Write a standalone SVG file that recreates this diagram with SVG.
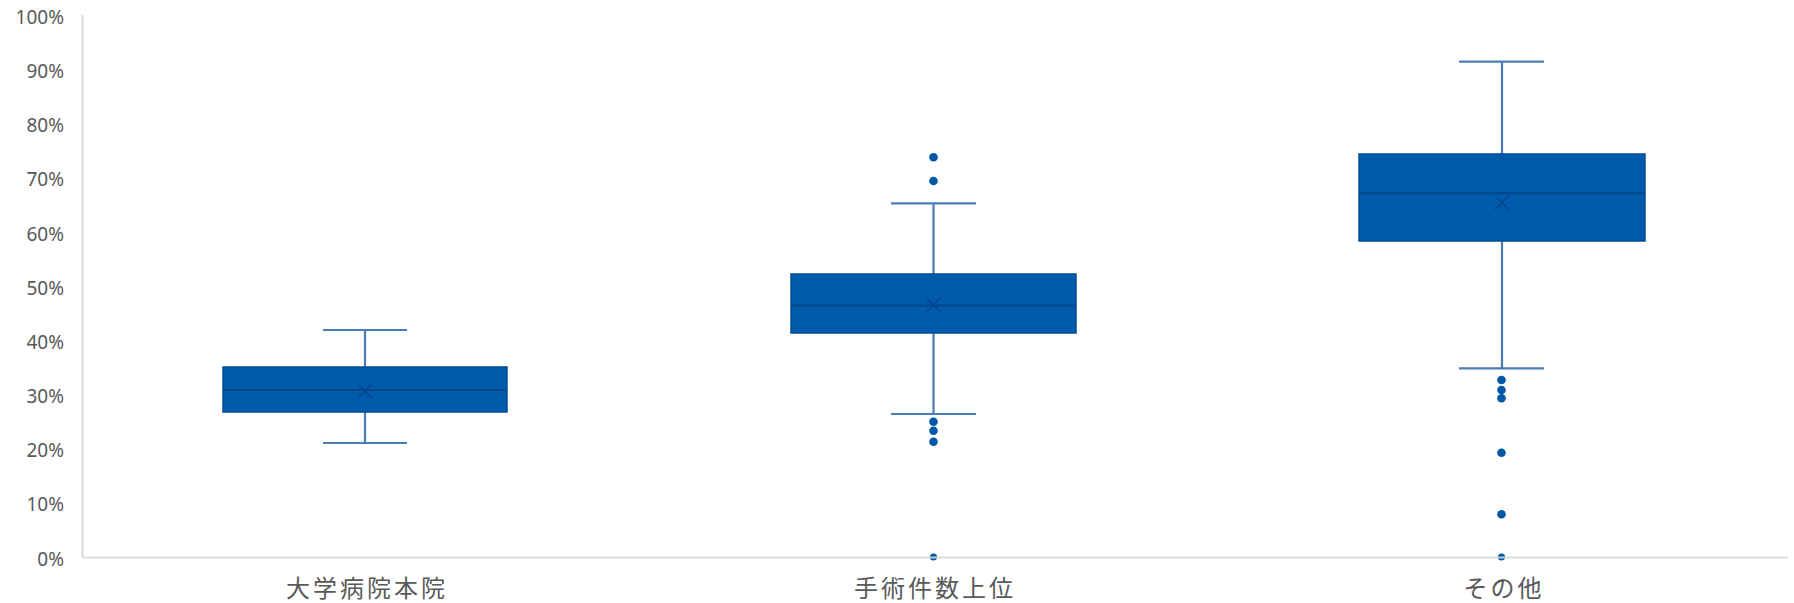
<svg xmlns="http://www.w3.org/2000/svg" width="1794" height="603" viewBox="0 0 1794 603">
<defs>
<style>
.ylab{font-family:"Noto Sans","Liberation Sans",sans-serif;font-size:19px;fill:#595959;text-anchor:end}
.xlab{font-family:"Noto Sans CJK JP","Noto Sans",sans-serif;font-size:24px;letter-spacing:3px;fill:#595959;text-anchor:middle}
.axis{stroke:#d9d9d9;stroke-width:2;fill:none}
.box{fill:#005bac;stroke:#004c91;stroke-width:1.5}
.med{stroke:#00468a;stroke-width:2}
.wh{stroke:#4a7db3;stroke-width:2.2;fill:none}
.mean{stroke:#00468a;stroke-width:1.6;fill:none}
.out{fill:#0057a6}
</style>
</defs>
<rect width="1794" height="603" fill="#ffffff"/>
<g id="y-axis">
<text class="ylab" x="64" y="24">100%</text>
<text class="ylab" x="64" y="78">90%</text>
<text class="ylab" x="64" y="132">80%</text>
<text class="ylab" x="64" y="186">70%</text>
<text class="ylab" x="64" y="241">60%</text>
<text class="ylab" x="64" y="295">50%</text>
<text class="ylab" x="64" y="349">40%</text>
<text class="ylab" x="64" y="403">30%</text>
<text class="ylab" x="64" y="457">20%</text>
<text class="ylab" x="64" y="511">10%</text>
<text class="ylab" x="64" y="566">0%</text>
<line class="axis" x1="82.5" y1="15" x2="82.5" y2="557"/>
</g>
<g id="box-daigaku">
<line class="wh" x1="365" y1="330" x2="365" y2="367"/>
<line class="wh" x1="365" y1="412" x2="365" y2="443"/>
<line class="wh" x1="323" y1="330" x2="407" y2="330"/>
<line class="wh" x1="323" y1="443" x2="407" y2="443"/>
<rect class="box" x="223" y="367" width="284" height="45"/>
<line class="med" x1="223" y1="390" x2="507" y2="390"/>
<path class="mean" d="M358 384 L372 398 M372 384 L358 398"/>
</g>
<g id="box-shujutsu">
<line class="wh" x1="933.5" y1="203.3" x2="933.5" y2="274"/>
<line class="wh" x1="933.5" y1="333" x2="933.5" y2="414"/>
<line class="wh" x1="891" y1="203.3" x2="976" y2="203.3"/>
<line class="wh" x1="891" y1="414" x2="976" y2="414"/>
<rect class="box" x="791" y="274" width="285" height="59"/>
<line class="med" x1="791" y1="305.5" x2="1076" y2="305.5"/>
<path class="mean" d="M926.5 298 L940.5 312 M940.5 298 L926.5 312"/>
<circle class="out" cx="933.5" cy="157.3" r="4.3"/>
<circle class="out" cx="933.5" cy="181" r="4.3"/>
<circle class="out" cx="933.5" cy="421.7" r="4.3"/>
<circle class="out" cx="933.5" cy="430.7" r="4.3"/>
<circle class="out" cx="933.5" cy="441.7" r="4.3"/>
<circle class="out" cx="933.5" cy="557" r="3.6"/>
</g>
<g id="box-sonota">
<line class="wh" x1="1502" y1="61.7" x2="1502" y2="154"/>
<line class="wh" x1="1502" y1="241" x2="1502" y2="368.3"/>
<line class="wh" x1="1459" y1="61.7" x2="1544" y2="61.7"/>
<line class="wh" x1="1459" y1="368.3" x2="1544" y2="368.3"/>
<rect class="box" x="1359" y="154" width="286" height="87"/>
<line class="med" x1="1359" y1="193.3" x2="1645" y2="193.3"/>
<path class="mean" d="M1495 195.7 L1509 209.7 M1509 195.7 L1495 209.7"/>
<circle class="out" cx="1501.5" cy="380" r="4.3"/>
<circle class="out" cx="1501.5" cy="390" r="4.3"/>
<circle class="out" cx="1501.5" cy="398.3" r="4.3"/>
<circle class="out" cx="1501.5" cy="452.7" r="4.3"/>
<circle class="out" cx="1501.5" cy="514.3" r="4.3"/>
<circle class="out" cx="1501.5" cy="557" r="3.6"/>
</g>
<g id="x-axis">
<line class="axis" x1="82" y1="557.5" x2="1788" y2="557.5" stroke-opacity="0.9"/>
<text class="xlab" x="367" y="597">大学病院本院</text>
<text class="xlab" x="935" y="597">手術件数上位</text>
<text class="xlab" x="1504" y="597">その他</text>
</g>
</svg>
